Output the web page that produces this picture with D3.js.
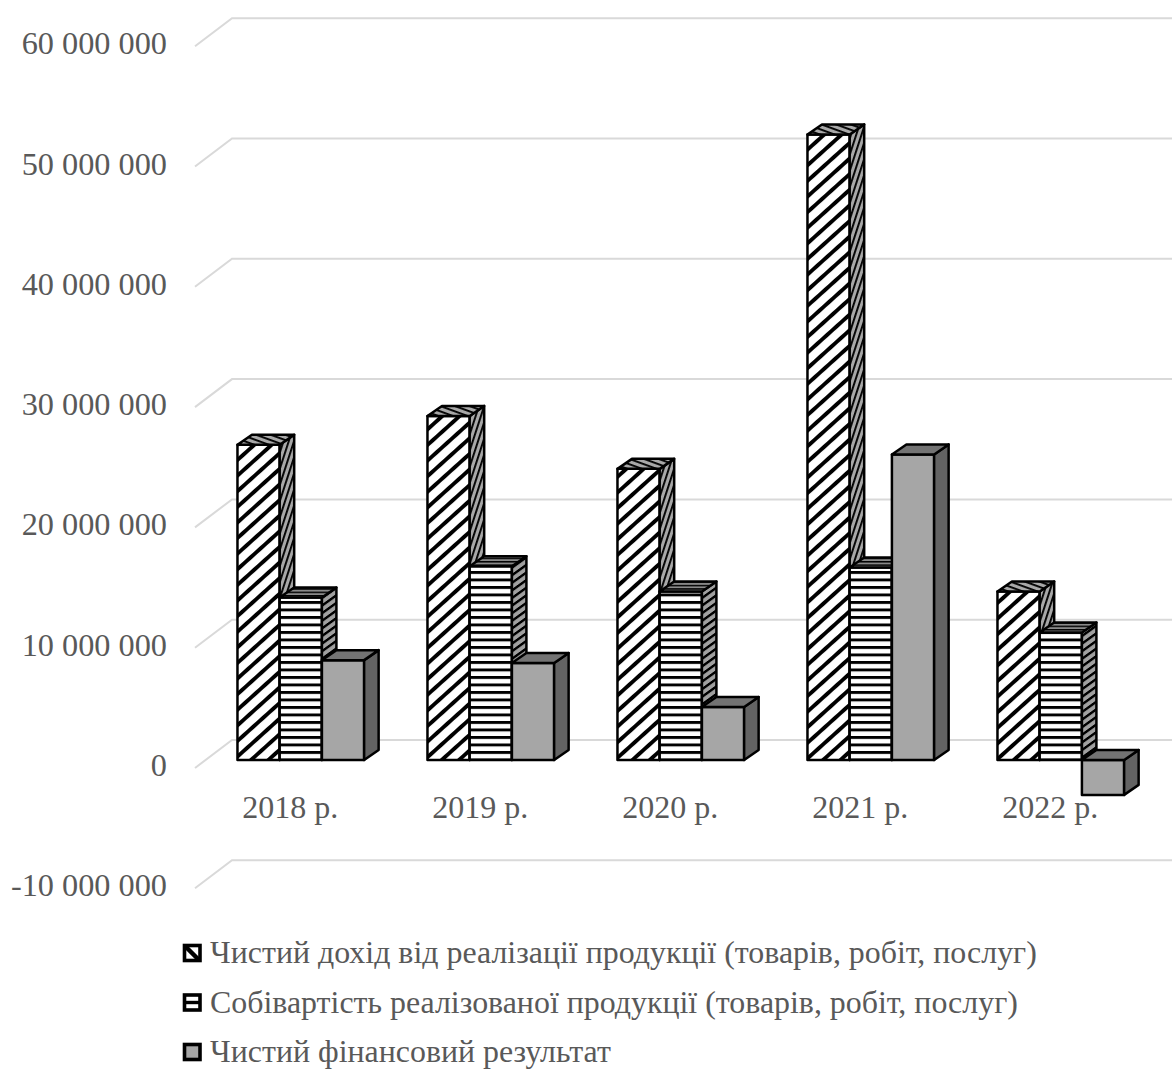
<!DOCTYPE html>
<html lang="uk">
<head>
<meta charset="utf-8">
<script src="https://cdn.jsdelivr.net/npm/d3@7/dist/d3.min.js"></script>
<style>
html,body{margin:0;padding:0;background:#fff}
svg{display:block}
text{font-family:"Liberation Serif","Times New Roman",serif;fill:#595959}
</style>
</head>
<body>
<svg id="chart" width="1172" height="1070"></svg>
<script>
const years = ["2018 р.", "2019 р.", "2020 р.", "2021 р.", "2022 р."];
const revenue = [26200000, 28600000, 24200000, 52000000, 14000000];
const cost = [13500000, 16100000, 14000000, 16000000, 10600000];
const result = [8300000, 8060000, 4400000, 25400000, -2900000];
const seriesNames = [
  "Чистий дохід від реалізації продукції (товарів, робіт, послуг)",
  "Собівартість реалізованої продукції (товарів, робіт, послуг)",
  "Чистий фінансовий результат"
];
const tickValues = [-10000000, 0, 10000000, 20000000, 30000000, 40000000, 50000000, 60000000];

const svg = d3.select("#chart");
const defs = svg.append("defs");

// Hatch fills for the front, side and top faces of each kind of bar
function hatch(id, size, thick, bg, transform) {
  const p = defs.append("pattern").attr("id", id)
    .attr("patternUnits", "userSpaceOnUse")
    .attr("width", size).attr("height", size)
    .attr("patternTransform", transform);
  p.append("rect").attr("width", size).attr("height", size).attr("fill", bg);
  p.append("rect").attr("width", size).attr("height", thick).attr("fill", "#000");
}
hatch("diagFront", 11.6, 3.9, "#fff", "rotate(-42)");
hatch("diagSide", 5, 1.9, "#a8a8a8", "rotate(-72)");
hatch("diagTop", 5, 1.9, "#a8a8a8", "rotate(20)");
hatch("horizFront", 7.5, 2.9, "#fff", "translate(0 1)");
hatch("horizSide", 7.6, 3, "#a0a0a0", "matrix(1 -0.72 0 1 0 0)");
hatch("horizTop", 3.4, 1.5, "#8a8a8a", "");

const faces = [
  { front: "url(#diagFront)", side: "url(#diagSide)", top: "url(#diagTop)" },
  { front: "url(#horizFront)", side: "url(#horizSide)", top: "url(#horizTop)" },
  { front: "#a6a6a6", side: "#636363", top: "#737373" }
];

const y = d3.scaleLinear().domain([-10000000, 60000000]).range([880.3, 38.2]);
const x0 = d3.scaleBand().domain(years).range([205.8, 1155.8])
  .paddingInner(1 / 3).paddingOuter(1 / 6);
const x1 = d3.scaleBand().domain(d3.range(3)).range([0, x0.bandwidth()]);

// Projection offsets of the 3D box
const barDx = 14.5, barDy = -10;
const wallDx = 37, wallDy = -20, floorDy = 8;

// Gridlines on the back wall with their slanted run along the side wall
const grid = svg.append("g").attr("fill", "none").attr("stroke", "#d9d9d9").attr("stroke-width", 2);
tickValues.forEach(v => {
  const back = y(v) + wallDy;
  grid.append("path").attr("d", d3.line()([
    [195, y(v) + floorDy], [195 + wallDx, back], [1172, back]
  ]));
});

// Value axis labels with spaces between thousands and a plain hyphen for negatives
const fmt = v => d3.format(",")(v).replace(/,/g, " ").replace("−", "-");
svg.append("g").selectAll("text").data(tickValues).join("text")
  .attr("x", 167).attr("y", d => y(d) + 16)
  .attr("text-anchor", "end").attr("font-size", 32.3)
  .text(fmt);

// Bars, drawn left to right so each box overlaps its neighbour's side
const plot = svg.append("g");
const poly = pts => d3.line()(pts) + "Z";
years.forEach((yr, i) => {
  [revenue, cost, result].forEach((series, s) => {
    const v = series[i];
    const xl = x0(yr) + x1(s), xr = xl + x1.bandwidth();
    const yTop = y(Math.max(v, 0)), yBot = y(Math.min(v, 0));
    const g = plot.append("g").attr("stroke", "#000").attr("stroke-width", 2.5).attr("stroke-linejoin", "round");
    g.append("path").attr("fill", faces[s].front)
      .attr("d", poly([[xl, yTop], [xr, yTop], [xr, yBot], [xl, yBot]]));
    g.append("path").attr("fill", faces[s].side)
      .attr("d", poly([[xr, yTop], [xr + barDx, yTop + barDy], [xr + barDx, yBot + barDy], [xr, yBot]]));
    g.append("path").attr("fill", faces[s].top)
      .attr("d", poly([[xl, yTop], [xl + barDx, yTop + barDy], [xr + barDx, yTop + barDy], [xr, yTop]]));
  });
});

// Category labels under the baseline
svg.append("g").selectAll("text").data(years).join("text")
  .attr("x", d => x0(d) + x0.bandwidth() / 2 - 10.5).attr("y", 818)
  .attr("text-anchor", "middle").attr("font-size", 32)
  .text(d => d);

// Legend: small boxes with a simplified stroke of their series' hatching
const legendY = d3.scalePoint().domain(d3.range(3)).range([953, 1052]);
const legend = svg.append("g").selectAll("g").data(seriesNames).join("g")
  .attr("transform", (d, i) => `translate(0,${legendY(i)})`);
const swatchFill = ["#fff", "#fff", "#a6a6a6"];
legend.append("rect").attr("x", 184.5).attr("y", -7.5).attr("width", 15.5).attr("height", 15)
  .attr("stroke", "#000").attr("stroke-width", 3.6)
  .attr("fill", (d, i) => swatchFill[i]);
legend.filter((d, i) => i === 0).append("line")
  .attr("x1", 185).attr("y1", -7).attr("x2", 199).attr("y2", 7)
  .attr("stroke", "#000").attr("stroke-width", 4.5);
legend.filter((d, i) => i === 1).append("line")
  .attr("x1", 185).attr("y1", 0).attr("x2", 200).attr("y2", 0)
  .attr("stroke", "#000").attr("stroke-width", 3.4);
legend.append("text").attr("x", 210).attr("y", 10).attr("font-size", 31.9)
  .text(d => d);
</script>
</body>
</html>
